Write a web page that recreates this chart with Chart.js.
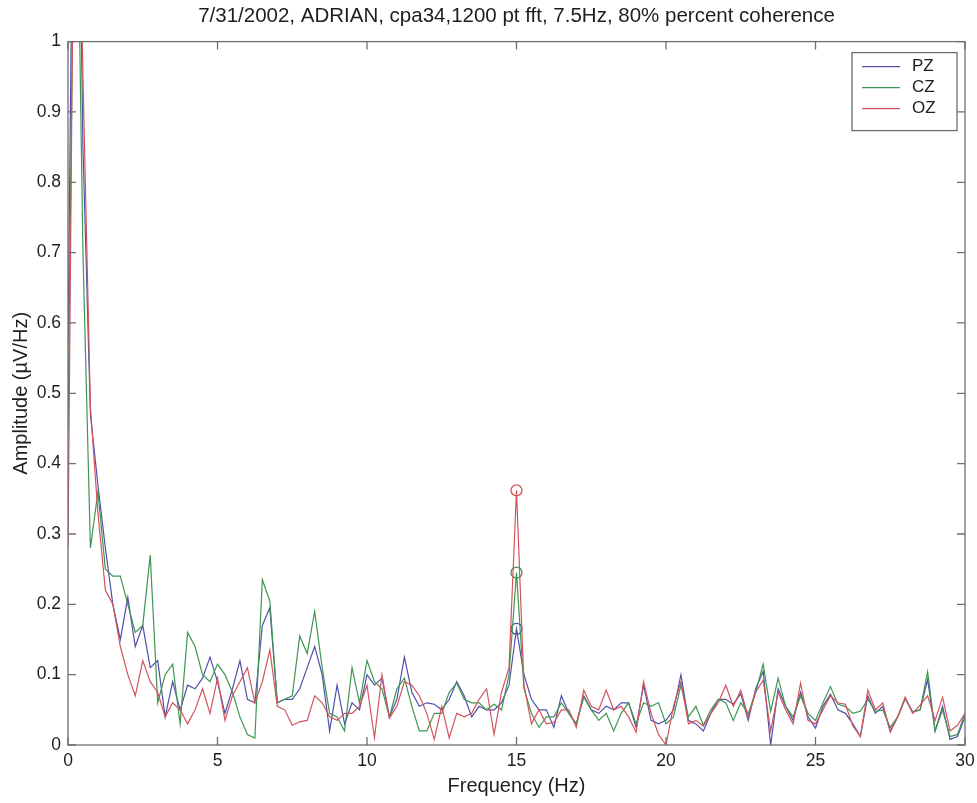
<!DOCTYPE html>
<html>
<head>
<meta charset="utf-8">
<title>Coherence spectrum</title>
<script src="https://cdn.jsdelivr.net/npm/chart.js@4.4.1/dist/chart.umd.min.js"></script>
<style>
  html, body { margin: 0; padding: 0; background: #fff; }
  canvas { display: block; }
</style>
</head>
<body>
<canvas id="spectrum" width="977" height="803"></canvas>
<script>
// --- DATA ---
// bin spacing of the 1200 pt fft (Hz); bins run 0..30 Hz
const BIN_HZ = 0.25;
const PEAK_HZ = 15;

const seriesNames = ["PZ", "CZ", "OZ"];
const seriesColors = ["#5050aa", "#3e9650", "#d2545c"];

const pz = [
  0.57, 1.6, 0.85, 0.47, 0.37, 0.28, 0.2, 0.15, 0.21, 0.14,
  0.17, 0.11, 0.12, 0.04, 0.09, 0.05, 0.085, 0.08, 0.095, 0.125,
  0.09, 0.045, 0.08, 0.12, 0.065, 0.06, 0.17, 0.195, 0.06, 0.065,
  0.065, 0.08, 0.11, 0.14, 0.1, 0.02, 0.085, 0.03, 0.06, 0.05,
  0.1, 0.085, 0.095, 0.04, 0.065, 0.125, 0.075, 0.055, 0.06, 0.058,
  0.05, 0.065, 0.09, 0.07, 0.04, 0.055, 0.05, 0.05, 0.06, 0.085,
  0.165, 0.1, 0.065, 0.05, 0.05, 0.025, 0.07, 0.045, 0.03, 0.07,
  0.05, 0.045, 0.055, 0.05, 0.06, 0.06, 0.025, 0.085, 0.035, 0.03,
  0.035, 0.05, 0.1, 0.035, 0.03, 0.02, 0.045, 0.065, 0.065, 0.058,
  0.073, 0.035, 0.08, 0.105, 0.0, 0.08, 0.055, 0.035, 0.075, 0.04,
  0.024, 0.055, 0.072, 0.05, 0.045, 0.03, 0.012, 0.07, 0.045, 0.055,
  0.02, 0.04, 0.066, 0.047, 0.05, 0.093, 0.02, 0.055, 0.008, 0.012,
  0.04
];
const cz = [
  0.45, 1.4, 0.7, 0.28, 0.36, 0.25, 0.24, 0.24, 0.2, 0.16,
  0.17, 0.27, 0.06, 0.1, 0.115, 0.03, 0.16, 0.14, 0.1, 0.09,
  0.115, 0.1, 0.075, 0.04, 0.015, 0.01, 0.235, 0.205, 0.06, 0.065,
  0.07, 0.155, 0.13, 0.19, 0.11, 0.045, 0.04, 0.02, 0.11, 0.06,
  0.12, 0.09, 0.08, 0.04, 0.08, 0.095, 0.055, 0.02, 0.02, 0.045,
  0.045, 0.075, 0.088, 0.065, 0.06, 0.06, 0.05, 0.058, 0.05, 0.1,
  0.245, 0.08, 0.045, 0.025, 0.04, 0.04, 0.06, 0.045, 0.03, 0.068,
  0.05, 0.035, 0.045, 0.02, 0.045, 0.06, 0.03, 0.06, 0.055, 0.06,
  0.03, 0.04, 0.085, 0.04, 0.055, 0.028, 0.05, 0.065, 0.06, 0.035,
  0.06, 0.045, 0.075, 0.115, 0.048, 0.095, 0.055, 0.04, 0.07, 0.045,
  0.035, 0.06, 0.083, 0.058, 0.055, 0.045, 0.048, 0.065, 0.048, 0.05,
  0.025, 0.04, 0.066, 0.047, 0.05, 0.104, 0.02, 0.05, 0.012, 0.015,
  0.045
];
const oz = [
  0.28, 1.5, 0.95, 0.48, 0.33, 0.22, 0.2, 0.14, 0.1, 0.07,
  0.12, 0.09, 0.075, 0.04, 0.06, 0.05, 0.03, 0.05, 0.08, 0.045,
  0.095, 0.035, 0.07, 0.09, 0.11, 0.06, 0.09, 0.135, 0.055, 0.05,
  0.028, 0.033, 0.035, 0.07, 0.06, 0.04, 0.035, 0.045, 0.045, 0.055,
  0.085, 0.01, 0.1, 0.038, 0.055, 0.09, 0.085, 0.07, 0.045, 0.008,
  0.055, 0.01, 0.045, 0.04, 0.045, 0.065, 0.08, 0.015, 0.075, 0.11,
  0.362, 0.085, 0.03, 0.05, 0.03, 0.032, 0.05, 0.05, 0.025, 0.078,
  0.055, 0.05, 0.078, 0.05, 0.055, 0.04, 0.018, 0.09, 0.045, 0.015,
  0.0, 0.055, 0.09, 0.03, 0.035, 0.027, 0.045, 0.06, 0.085, 0.055,
  0.078, 0.04, 0.075, 0.092, 0.02, 0.075, 0.05, 0.03, 0.088, 0.035,
  0.03, 0.05, 0.07, 0.06, 0.058, 0.027, 0.012, 0.078, 0.05, 0.06,
  0.018, 0.04, 0.068, 0.045, 0.057, 0.07, 0.035, 0.068, 0.02, 0.028,
  0.045
];

const xTicks = [0, 5, 10, 15, 20, 25, 30];
const yTicks = [0, 0.1, 0.2, 0.3, 0.4, 0.5, 0.6, 0.7, 0.8, 0.9, 1];

// --- STYLE ---
const FONT = "'Liberation Sans', Arial, Helvetica, sans-serif";
const INK = "#1e1e1e";
const AXIS = "#6f6f6f";
const TICK_LEN = 8;

const freqs = pz.map((_, i) => i * BIN_HZ);
const peakIndex = freqs.indexOf(PEAK_HZ);

function toPoints(values) {
  return values.map((v, i) => ({ x: freqs[i], y: v }));
}

const allSeries = [pz, cz, oz];
const datasets = allSeries.map((values, k) => ({
  label: seriesNames[k],
  data: toPoints(values),
  borderColor: seriesColors[k],
  borderWidth: 1.2,
  tension: 0,
  // later series are drawn on top
  order: allSeries.length - k,
  pointRadius: (ctx) => (ctx.dataIndex === peakIndex ? 5.5 : 0),
  pointHoverRadius: 0,
  pointStyle: "circle",
  pointBackgroundColor: "rgba(0,0,0,0)",
  pointBorderColor: seriesColors[k],
  pointBorderWidth: 1.3,
}));

// box frame with inward ticks on all four sides, plus the legend inside the axes
const frameAndLegend = {
  id: "frameAndLegend",
  afterDatasetsDraw(chart) {
    const { ctx, chartArea: a, scales } = chart;
    ctx.save();
    ctx.strokeStyle = AXIS;
    ctx.lineWidth = 1.3;
    ctx.strokeRect(a.left, a.top, a.right - a.left, a.bottom - a.top);

    ctx.beginPath();
    scales.x.ticks.forEach((t) => {
      const px = scales.x.getPixelForValue(t.value);
      ctx.moveTo(px, a.bottom);
      ctx.lineTo(px, a.bottom - TICK_LEN);
      ctx.moveTo(px, a.top);
      ctx.lineTo(px, a.top + TICK_LEN);
    });
    scales.y.ticks.forEach((t) => {
      const py = scales.y.getPixelForValue(t.value);
      ctx.moveTo(a.left, py);
      ctx.lineTo(a.left + TICK_LEN, py);
      ctx.moveTo(a.right, py);
      ctx.lineTo(a.right - TICK_LEN, py);
    });
    ctx.stroke();

    // legend
    const lx = a.right - 113, ly = a.top + 11, lw = 105, lh = 78;
    ctx.fillStyle = "#fff";
    ctx.fillRect(lx, ly, lw, lh);
    ctx.strokeRect(lx, ly, lw, lh);
    ctx.font = "17px " + FONT;
    ctx.textBaseline = "middle";
    ctx.textAlign = "left";
    chart.data.datasets.forEach((ds, i) => {
      const rowY = ly + 14 + i * 21;
      ctx.strokeStyle = ds.borderColor;
      ctx.lineWidth = 1.2;
      ctx.beginPath();
      ctx.moveTo(lx + 10, rowY);
      ctx.lineTo(lx + 48, rowY);
      ctx.stroke();
      ctx.fillStyle = INK;
      ctx.fillText(ds.label, lx + 60, rowY);
    });
    ctx.restore();
  },
};

const whiteBg = {
  id: "whiteBg",
  beforeDraw(chart) {
    const { ctx, width, height } = chart;
    ctx.save();
    ctx.fillStyle = "#fff";
    ctx.fillRect(0, 0, width, height);
    ctx.restore();
  },
};

new Chart(document.getElementById("spectrum"), {
  type: "line",
  data: { datasets },
  plugins: [whiteBg, frameAndLegend],
  options: {
    responsive: false,
    animation: false,
    events: [],
    layout: { padding: { left: 0, right: 12, top: 0, bottom: 0 } },
    plugins: {
      legend: { display: false },
      tooltip: { enabled: false },
      title: {
        display: true,
        fullSize: false,
        text: "7/31/2002, ADRIAN, cpa34,1200 pt fft, 7.5Hz, 80% percent coherence",
        color: INK,
        font: { family: FONT, size: 20.5, weight: "normal" },
        padding: { top: 4, bottom: 13 },
      },
    },
    scales: {
      x: {
        type: "linear",
        min: 0,
        max: 30,
        afterBuildTicks: (scale) => { scale.ticks = xTicks.map((v) => ({ value: v })); },
        afterFit: (scale) => {
          scale.height = 58;
          // the "30" label fits inside the right margin already
          scale.paddingRight = 0;
        },
        grid: { display: false, drawTicks: false },
        border: { display: false },
        ticks: {
          padding: 6,
          color: INK,
          font: { family: FONT, size: 17.5 },
          maxRotation: 0,
          callback: (v) => String(v),
        },
        title: {
          display: true,
          text: "Frequency (Hz)",
          color: INK,
          font: { family: FONT, size: 20 },
          padding: { top: 0, bottom: 5 },
        },
      },
      y: {
        type: "linear",
        min: 0,
        max: 1,
        afterBuildTicks: (scale) => { scale.ticks = yTicks.map((v) => ({ value: v })); },
        afterFit: (scale) => { scale.width = 68; },
        grid: { display: false, drawTicks: false },
        border: { display: false },
        ticks: {
          padding: 7,
          color: INK,
          font: { family: FONT, size: 17.5 },
          callback: (v) => String(v),
        },
        title: {
          display: true,
          text: "Amplitude (µV/Hz)",
          color: INK,
          font: { family: FONT, size: 20 },
          padding: { top: 9, bottom: 0 },
        },
      },
    },
  },
});
</script>
</body>
</html>
